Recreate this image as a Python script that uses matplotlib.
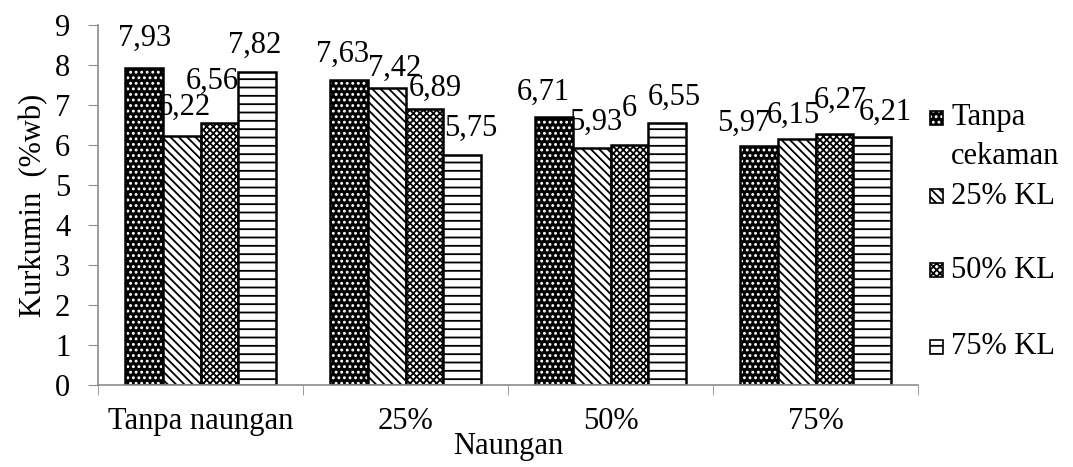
import numpy as np
import matplotlib.pyplot as plt
from matplotlib.patches import Rectangle

plt.rcParams.update({'font.family': 'Liberation Serif', 'font.size': 22,
                     'hatch.linewidth': 1.3})

# data
groups = ['Tanpa naungan', '25%', '50%', '75%']
series = ['Tanpa\ncekaman', '25% KL', '50% KL', '75% KL']
tanpa_cekaman = [7.93, 7.63, 6.71, 5.97]
kl25 = [6.22, 7.42, 5.93, 6.15]
kl50 = [6.56, 6.89, 6.00, 6.27]
kl75 = [7.82, 5.75, 6.55, 6.21]
values = [tanpa_cekaman, kl25, kl50, kl75]

# (face, hatch colour, hatch)
styles = [('black', 'white', '...'),
          ('white', 'black', '\\\\\\\\'),
          ('white', 'black', 'xxxxx'),
          ('white', 'black', '--')]

# label shifts in px (dx, dy above bar top), as excel placed them
# rows = group, cols = series
lab_dx = [[0, 3, -7, -2], [-7, 8, 11, 9], [-11, 4, 0, 8], [-15, -3, 6, 14]]
lab_dy = [[29, 29, 41, 27], [25, 20, 21, 27], [24, 25, 37, 26], [23, 24, 34, 24]]

fig = plt.figure(figsize=(10.73, 4.67), dpi=100)
ax = fig.add_axes([98/1073, 82/467, 820/1073, 360/467])

x = np.arange(len(groups))
w = 0.183
for i, vals in enumerate(values):
    pos = x + (i - 1.5) * w
    face, hc, h = styles[i]
    ax.bar(pos, vals, w, color=face, edgecolor=hc, hatch=h, lw=0)
    ax.bar(pos, vals, w, fill=False, edgecolor='black', lw=1.8)
    for j, (p, v) in enumerate(zip(pos, vals)):
        txt = f'{v:g}'.replace('.', ',')
        ax.annotate(txt, (p, v),
                    xytext=(lab_dx[j][i] * 0.72, lab_dy[j][i] * 0.72),
                    textcoords='offset points', ha='center', va='center')

ax.set_xlim(-0.5, 3.5)
ax.set_ylim(0, 9)
ax.set_yticks(range(10))
ax.set_xticks(x)
ax.set_xticklabels(groups)
ax.set_xticks(np.arange(-0.5, 4, 1), minor=True)
ax.tick_params(axis='x', which='major', length=0, pad=16)
ax.tick_params(axis='x', which='minor', length=7, color='#8c8c8c', direction='out')
ax.tick_params(axis='y', length=7, color='#8c8c8c', pad=13)
for s in ['top', 'right']:
    ax.spines[s].set_visible(False)
for s in ['left', 'bottom']:
    ax.spines[s].set_color('#8c8c8c')
    ax.spines[s].set_linewidth(1.2)

ax.set_ylabel('Kurkumin  (%wb)', labelpad=5)
ax.set_xlabel('Naungan', labelpad=-3)

# legend drawn by hand to keep excel's uneven spacing
W, H = 1073, 467
leg_y = [118, 196, 270, 347]
for i, yy in enumerate(leg_y):
    face, hc, h = styles[i]
    fig.add_artist(Rectangle((930/W, (H - yy - 7)/H), 13/W, 14/H,
                             transform=fig.transFigure, facecolor=face,
                             edgecolor=hc, hatch=h, lw=0))
    fig.add_artist(Rectangle((930/W, (H - yy - 7)/H), 13/W, 14/H,
                             transform=fig.transFigure, fill=False,
                             edgecolor='black', lw=1.2))
    for k, line in enumerate(series[i].split('\n')):
        fig.text(951/W, (H - yy - 39*k)/H, line, va='center', ha='left')

fig.savefig('out.png', dpi=100)
